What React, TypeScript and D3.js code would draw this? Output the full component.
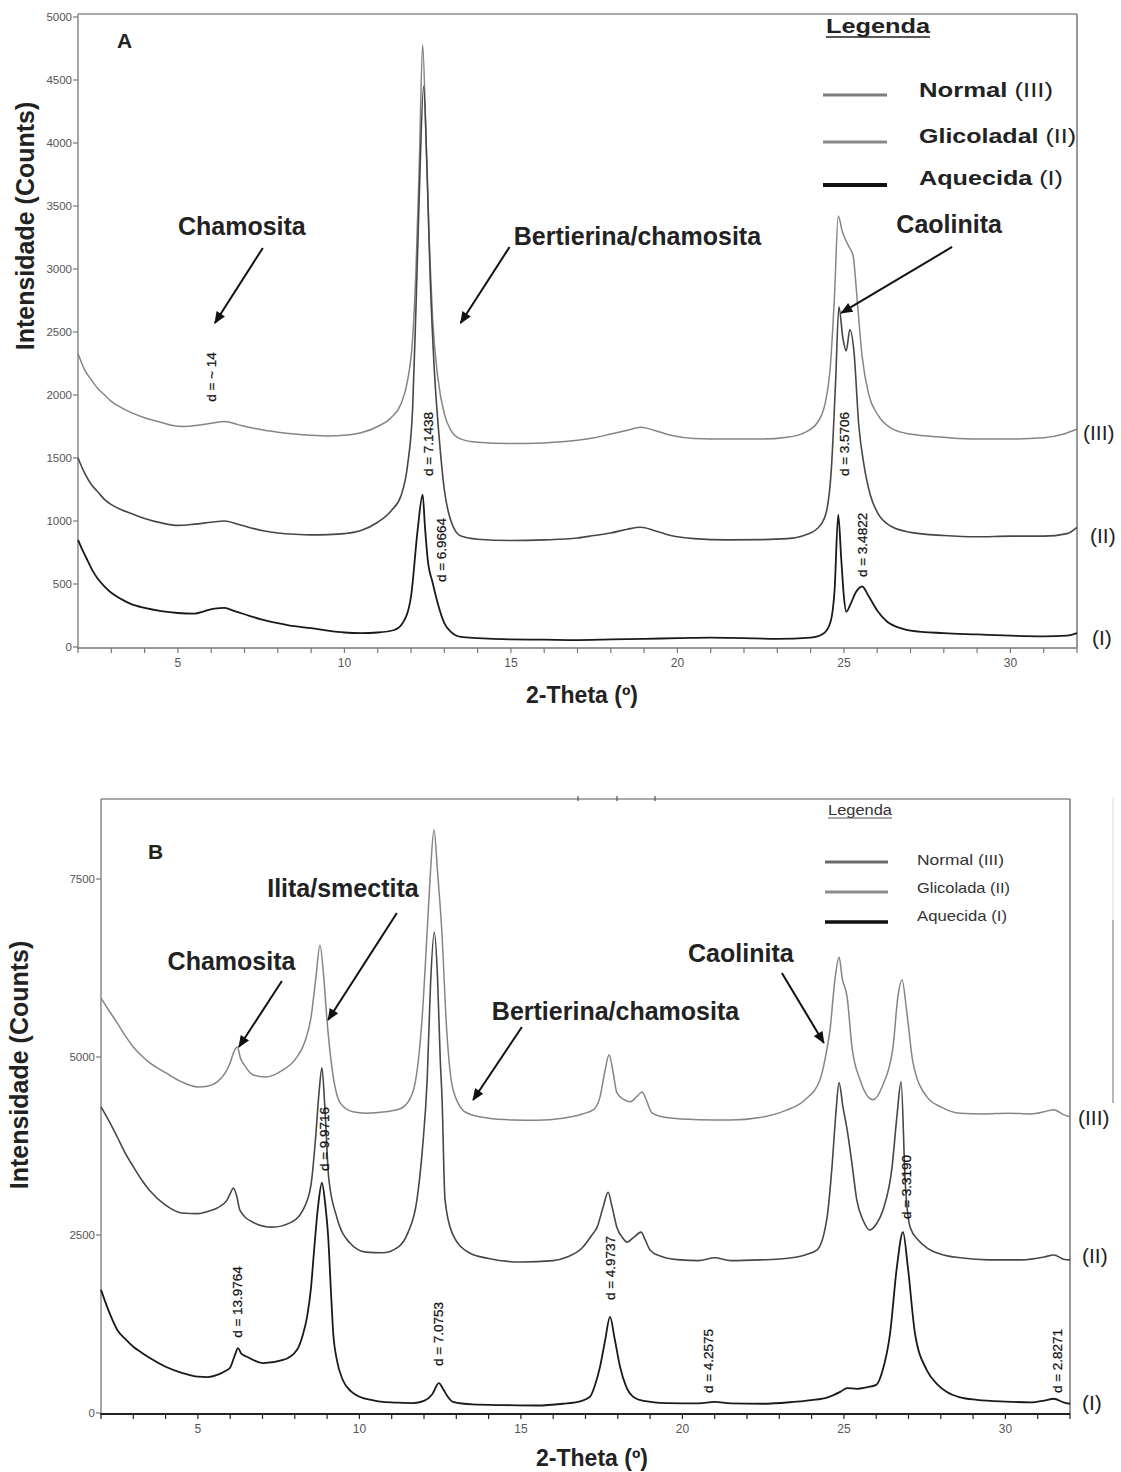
import React from 'react';
import * as d3 from 'd3';

type P = [number, number];

// ---------------- Panel A data (2-Theta, counts) ----------------
const A_III: P[] = [[2.0,2330],[2.2,2200],[2.4,2120],[2.6,2050],[2.8,2000],[3.0,1950],[3.3,1900],[3.6,1860],[4.0,1820],[4.4,1790],[4.8,1760],[5.2,1750],[5.6,1760],[6.0,1775],[6.4,1790],[6.8,1765],[7.2,1740],[7.6,1720],[8.0,1705],[8.5,1690],[9.0,1680],[9.5,1675],[10.0,1680],[10.5,1700],[11.0,1750],[11.4,1820],[11.7,1930],[11.9,2120],[12.05,2450],[12.15,3000],[12.25,3850],[12.35,4780],[12.45,4050],[12.55,3200],[12.65,2600],[12.8,2150],[13.0,1850],[13.2,1720],[13.5,1650],[14.0,1625],[15,1615],[16,1620],[17,1640],[17.5,1660],[18.0,1690],[18.5,1720],[18.9,1745],[19.3,1720],[19.8,1680],[20.5,1655],[21.5,1650],[22.5,1650],[23.3,1665],[23.8,1700],[24.2,1780],[24.45,1950],[24.6,2250],[24.72,2800],[24.83,3420],[24.95,3300],[25.07,3220],[25.18,3165],[25.28,3100],[25.4,2750],[25.55,2300],[25.75,2000],[26.0,1850],[26.4,1740],[27,1690],[28,1665],[29,1650],[30,1650],[31,1660],[31.6,1690],[32,1730]];
const A_II: P[] = [[2.0,1500],[2.2,1380],[2.4,1290],[2.6,1230],[2.8,1170],[3.0,1130],[3.3,1090],[3.6,1060],[4.0,1020],[4.5,985],[5.0,965],[5.5,975],[6.0,990],[6.4,1000],[6.8,975],[7.2,945],[7.6,920],[8.0,905],[8.5,895],[9.0,890],[9.5,892],[10.0,900],[10.5,925],[11.0,990],[11.4,1080],[11.7,1200],[11.9,1450],[12.05,1900],[12.15,2700],[12.25,3600],[12.38,4450],[12.48,3800],[12.58,2900],[12.7,2200],[12.85,1650],[13.0,1250],[13.2,1000],[13.5,880],[14,855],[15,845],[16,850],[17,865],[17.5,885],[18,905],[18.5,935],[18.9,950],[19.3,925],[19.8,885],[20.5,860],[21.5,850],[22.5,852],[23.3,860],[23.8,885],[24.2,940],[24.45,1050],[24.62,1400],[24.75,2100],[24.85,2700],[24.97,2450],[25.07,2350],[25.18,2520],[25.3,2350],[25.45,1750],[25.6,1450],[25.8,1200],[26.0,1070],[26.4,960],[27,910],[28,885],[29,875],[30,880],[31,880],[31.7,900],[32,950]];
const A_I: P[] = [[2.0,850],[2.15,760],[2.3,680],[2.45,600],[2.6,540],[2.8,480],[3.0,430],[3.3,380],[3.6,340],[4.0,310],[4.5,285],[5.0,270],[5.5,265],[5.8,285],[6.1,305],[6.4,310],[6.7,285],[7.0,260],[7.5,220],[8.0,190],[8.5,165],[9.0,150],[9.5,130],[10.0,115],[10.5,110],[11.0,115],[11.5,135],[11.75,190],[12.0,400],[12.2,930],[12.35,1210],[12.42,950],[12.5,700],[12.65,510],[12.8,350],[13.0,190],[13.2,120],[13.5,80],[14,70],[15,60],[16,58],[17,55],[18,60],[19,65],[20,70],[21,75],[22,70],[23,65],[24,75],[24.4,110],[24.6,200],[24.72,450],[24.83,1050],[24.92,700],[25.0,400],[25.07,280],[25.2,340],[25.35,430],[25.55,480],[25.75,400],[26.0,290],[26.3,200],[26.7,150],[27,130],[28,110],[29,100],[30,90],[31,85],[31.7,90],[32,110]];

// ---------------- Panel B data ----------------
const B_III: P[] = [[2.0,5830],[2.25,5650],[2.5,5480],[2.75,5300],[3.0,5140],[3.25,5020],[3.5,4920],[4.0,4780],[4.5,4650],[5.0,4580],[5.3,4590],[5.6,4650],[5.85,4780],[6.0,4920],[6.12,5080],[6.22,5140],[6.32,4980],[6.45,4880],[6.7,4750],[7.1,4720],[7.6,4810],[8.0,4960],[8.3,5200],[8.5,5550],[8.65,6100],[8.78,6570],[8.9,6100],[9.0,5500],[9.15,4850],[9.4,4360],[9.8,4230],[10.2,4210],[10.8,4230],[11.3,4280],[11.65,4500],[11.95,5600],[12.1,6780],[12.2,7600],[12.31,8190],[12.42,7600],[12.55,6780],[12.7,5400],[12.9,4540],[13.3,4220],[14.0,4140],[14.8,4115],[15.5,4110],[16.3,4140],[16.9,4200],[17.25,4260],[17.45,4440],[17.6,4800],[17.73,5030],[17.85,4800],[17.97,4500],[18.2,4400],[18.38,4370],[18.6,4450],[18.75,4510],[18.88,4400],[19.05,4220],[19.5,4150],[20.5,4120],[21.5,4115],[22.4,4150],[23.2,4250],[23.8,4400],[24.26,4680],[24.45,5050],[24.57,5380],[24.72,6080],[24.85,6400],[24.95,6100],[25.1,5840],[25.25,5140],[25.5,4680],[25.9,4400],[26.2,4600],[26.52,5140],[26.67,5840],[26.8,6080],[26.95,5620],[27.14,4920],[27.57,4440],[28.0,4300],[28.6,4210],[29.3,4200],[30.1,4210],[30.8,4200],[31.2,4230],[31.5,4260],[31.8,4190],[32.0,4160]];
const B_II: P[] = [[2.0,4300],[2.25,4100],[2.5,3880],[2.75,3650],[3.0,3460],[3.25,3280],[3.5,3130],[4.0,2920],[4.5,2810],[5.0,2800],[5.3,2830],[5.6,2880],[5.9,2990],[6.0,3080],[6.1,3160],[6.2,3050],[6.3,2850],[6.7,2680],[7.3,2610],[7.85,2670],[8.25,2850],[8.5,3200],[8.65,3900],[8.75,4500],[8.84,4850],[8.93,4300],[9.05,3300],[9.3,2750],[9.7,2390],[10.2,2260],[10.7,2250],[11.2,2330],[11.5,2530],[11.78,2990],[11.95,3700],[12.1,4700],[12.2,6000],[12.32,6750],[12.42,6100],[12.5,5000],[12.56,4400],[12.65,3000],[12.87,2530],[13.4,2250],[14.0,2170],[15.0,2120],[16.0,2140],[16.43,2190],[16.9,2320],[17.2,2500],[17.36,2610],[17.55,2900],[17.7,3100],[17.82,2900],[17.97,2610],[18.15,2460],[18.28,2400],[18.5,2470],[18.72,2540],[18.85,2430],[19.0,2290],[19.4,2190],[19.93,2150],[20.5,2140],[21.0,2180],[21.5,2140],[22.4,2150],[23.2,2170],[23.8,2220],[24.17,2290],[24.48,2750],[24.63,3450],[24.75,4200],[24.85,4640],[24.97,4300],[25.1,3980],[25.25,3500],[25.4,2990],[25.6,2700],[25.8,2570],[26.0,2650],[26.21,2850],[26.49,3450],[26.64,4160],[26.77,4650],[26.9,3230],[27.05,2610],[27.3,2430],[27.57,2320],[28.0,2230],[28.6,2180],[29.5,2150],[30.5,2150],[31.2,2190],[31.5,2220],[31.8,2160],[32.0,2150]];
const B_I: P[] = [[2.0,1730],[2.25,1420],[2.5,1170],[2.75,1040],[3.0,930],[3.25,850],[3.5,775],[4.0,650],[4.5,565],[5.0,510],[5.3,505],[5.6,535],[5.85,590],[6.0,640],[6.15,820],[6.24,910],[6.35,830],[6.52,790],[7.02,700],[7.64,745],[8.07,890],[8.25,1100],[8.38,1350],[8.5,1750],[8.6,2300],[8.72,2900],[8.84,3230],[8.95,2900],[9.03,2500],[9.12,1700],[9.19,1120],[9.3,750],[9.49,460],[9.75,300],[10.02,225],[10.4,180],[10.73,155],[11.2,145],[11.66,140],[12.0,170],[12.25,260],[12.46,420],[12.6,330],[12.75,220],[12.9,155],[13.5,120],[14.5,110],[15.5,105],[16.3,130],[16.8,160],[17.14,230],[17.3,400],[17.45,650],[17.6,1000],[17.76,1350],[17.9,1050],[18.07,650],[18.25,380],[18.47,230],[18.8,170],[19.5,140],[20.5,135],[21.0,155],[21.5,135],[22.5,130],[23.43,155],[24.0,180],[24.5,220],[24.9,300],[25.1,350],[25.4,340],[25.7,360],[26.0,395],[26.2,600],[26.43,1120],[26.64,2050],[26.83,2540],[26.98,2050],[27.2,1120],[27.57,600],[27.9,400],[28.19,295],[28.6,220],[29.12,185],[30.0,160],[30.8,150],[31.2,175],[31.5,200],[31.8,150],[32.0,130]];

// ---------------- ticks / labels ----------------
const xTickMajor = [5, 10, 15, 20, 25, 30];
const xTickMinor = d3.range(2, 33, 1);
const yTicksA = d3.range(0, 5001, 500);
const yTicksB = [0, 2500, 5000, 7500];
const seriesTags = ['(III)', '(II)', '(I)'];

const annA = [
  { text: 'Chamosita', tx: 6.92, ty: 3270, ax1: 7.55, ay1: 3167, ax2: 6.11, ay2: 2571 },
  { text: 'Bertierina/chamosita', tx: 18.8, ty: 3190, ax1: 14.96, ay1: 3175, ax2: 13.49, ay2: 2571 },
  { text: 'Caolinita', tx: 28.16, ty: 3286, ax1: 28.25, ay1: 3175, ax2: 24.92, ay2: 2651 },
];
const annB = [
  { text: 'Chamosita', tx: 6.04, ty: 6222, ax1: 7.6, ay1: 6067, ax2: 6.27, ay2: 5140 },
  { text: 'Ilita/smectita', tx: 9.49, ty: 7247, ax1: 11.16, ay1: 7022, ax2: 9.03, ay2: 5520 },
  { text: 'Bertierina/chamosita', tx: 17.93, ty: 5520, ax1: 15.03, ay1: 5421, ax2: 13.52, ay2: 4396 },
  { text: 'Caolinita', tx: 21.81, ty: 6334, ax1: 23.08, ay1: 6180, ax2: 24.38, ay2: 5197 },
];
const dLabA: [string, number, number][] = [
  ['d = ~ 14', 6.02, 2143], ['d = 7.1438', 12.54, 1611], ['d = 6.9664', 12.93, 770],
  ['d = 3.5706', 25.03, 1611], ['d = 3.4822', 25.57, 810],
];
const dLabB: [string, number, number][] = [
  ['d = 13.9764', 6.24, 1559], ['d = 9.9716', 8.93, 3848], ['d = 7.0753', 12.46, 1110],
  ['d = 4.9737', 17.76, 2037], ['d = 4.2575', 20.82, 730], ['d = 3.3190', 26.95, 3174],
  ['d = 2.8271', 31.6, 730],
];

const FONT = "'Liberation Sans', Arial, Helvetica, sans-serif";
const COL = { III: '#858585', II: '#474747', I: '#1a1a1a' };

interface PanelProps {
  xs: d3.ScaleLinear<number, number>;
  ys: d3.ScaleLinear<number, number>;
  top: number;
  series: P[][];
  yTicks: number[];
  ann: typeof annA;
  dLab: [string, number, number][];
  tagPos: [number, number][];
  axisColor: string;
  axisWidth: number;
}

function Panel({ xs, ys, top, series, yTicks, ann, dLab, tagPos, axisColor, axisWidth }: PanelProps) {
  const [x0, x1] = xs.range();
  const y0 = ys(0) + 1;
  const line = d3.line<P>().x(d => xs(d[0])).y(d => ys(d[1])).curve(d3.curveMonotoneX);
  const cols = [COL.III, COL.II, COL.I];
  const widths = [1.5, 1.6, 1.8];
  return (
    <g>
      <line x1={x0} x2={x1} y1={top} y2={top} stroke="#8c8c8c" strokeWidth={1.5} />
      <line x1={x1} x2={x1} y1={top} y2={y0} stroke="#777" strokeWidth={1.5} />
      <line x1={x0} x2={x0} y1={top} y2={y0} stroke="#777" strokeWidth={1.3} />
      <line x1={x0 - 1} x2={x1} y1={y0} y2={y0} stroke={axisColor} strokeWidth={axisWidth} />
      {xTickMinor.map(t => (
        <line key={'m' + t} x1={xs(t)} x2={xs(t)} y1={y0} y2={y0 + 5} stroke={axisColor} strokeWidth={1.2} />
      ))}
      {xTickMajor.map(t => (
        <text key={'l' + t} x={xs(t)} y={y0 + 19} fontSize={12} fill="#555" textAnchor="middle" fontFamily={FONT}>{t}</text>
      ))}
      {yTicks.map(t => (
        <g key={'y' + t}>
          <line x1={x0 - 5} x2={x0} y1={ys(t)} y2={ys(t)} stroke="#777" strokeWidth={1.2} />
          <text x={x0 - 6} y={ys(t) + 4} fontSize={11.5} fill="#555" textAnchor="end" fontFamily={FONT}>{t}</text>
        </g>
      ))}
      {series.map((s, i) => (
        <path key={'s' + i} d={line(s) || ''} fill="none" stroke={cols[i]} strokeWidth={widths[i]} strokeLinejoin="round" />
      ))}
      {dLab.map(([t, a, b]) => (
        <text key={t} transform={`translate(${xs(a)},${ys(b)}) rotate(-90)`} fontSize={13.5} fill="#111" textAnchor="middle" dominantBaseline="central" fontFamily={FONT} stroke="#111" strokeWidth={0.25}>{t}</text>
      ))}
      {ann.map(a => (
        <g key={a.text}>
          <text x={xs(a.tx)} y={ys(a.ty)} fontSize={25} fontWeight="bold" fill="#222" textAnchor="middle" fontFamily={FONT}>{a.text}</text>
          <line x1={xs(a.ax1)} y1={ys(a.ay1)} x2={xs(a.ax2)} y2={ys(a.ay2)} stroke="#111" strokeWidth={2} markerEnd="url(#ah)" />
        </g>
      ))}
      {seriesTags.map((t, i) => (
        <text key={t} x={tagPos[i][0]} y={tagPos[i][1]} fontSize={21} fill="#222" dominantBaseline="central" fontFamily={FONT}>{t}</text>
      ))}
    </g>
  );
}

export default function App() {
  const xA = d3.scaleLinear().domain([2, 32]).range([78, 1077]);
  const yA = d3.scaleLinear().domain([0, 5000]).range([647, 17]);
  const xB = d3.scaleLinear().domain([2, 32]).range([101, 1070]);
  const yB = d3.scaleLinear().domain([0, 7500]).range([1413, 879]);
  return (
    <svg width={1121} height={1472} style={{ position: 'absolute', left: 0, top: 0, background: '#fff' }} fontFamily={FONT}>
      <defs>
        <marker id="ah" viewBox="0 0 12 10" refX={11} refY={5} markerWidth={13} markerHeight={10} markerUnits="userSpaceOnUse" orient="auto">
          <path d="M0,0 L12,5 L0,10 z" fill="#111" />
        </marker>
      </defs>
      <rect x={0} y={0} width={1121} height={1472} fill="#fff" />

      {/* Panel A */}
      <Panel xs={xA} ys={yA} top={14} series={[A_III, A_II, A_I]} yTicks={yTicksA} ann={annA} dLab={dLabA}
        tagPos={[[1083, 432], [1090, 535], [1092, 637]]} axisColor="#777" axisWidth={1.5} />
      <text x={117} y={48} fontSize={21} fontWeight="bold" fill="#222">A</text>
      <text transform="translate(34,226) rotate(-90)" fontSize={25} fontWeight="bold" fill="#222" textAnchor="middle">Intensidade (Counts)</text>
      <text x={582} y={703} fontSize={23} fontWeight="bold" fill="#222" textAnchor="middle">2-Theta (º)</text>
      <text x={826} y={33} fontSize={20} fontWeight="bold" fill="#222" textLength={104} lengthAdjust="spacingAndGlyphs">Legenda</text>
      <line x1={826} x2={930} y1={37} y2={37} stroke="#222" strokeWidth={1.5} />
      <line x1={823} x2={887} y1={95} y2={95} stroke="#7c7c7c" strokeWidth={3} />
      <line x1={823} x2={887} y1={142} y2={142} stroke="#8a8a8a" strokeWidth={3} />
      <line x1={823} x2={887} y1={185} y2={185} stroke="#111" strokeWidth={4} />
      <text x={919} y={97} fontSize={20} fill="#222" textLength={134} lengthAdjust="spacingAndGlyphs"><tspan fontWeight="bold">Normal</tspan> (III)</text>
      <text x={919} y={143} fontSize={20} fill="#222" textLength={157} lengthAdjust="spacingAndGlyphs"><tspan fontWeight="bold">Glicoladal</tspan> (II)</text>
      <text x={919} y={185} fontSize={20} fill="#222" textLength={144} lengthAdjust="spacingAndGlyphs"><tspan fontWeight="bold">Aquecida</tspan> (I)</text>

      {/* Panel B */}
      <Panel xs={xB} ys={yB} top={799} series={[B_III, B_II, B_I]} yTicks={yTicksB} ann={annB} dLab={dLabB}
        tagPos={[[1078, 1117], [1082, 1255], [1082, 1402]]} axisColor="#222" axisWidth={2} />
      <text x={148} y={859} fontSize={21} fontWeight="bold" fill="#222">B</text>
      <text transform="translate(28,1065) rotate(-90)" fontSize={25} fontWeight="bold" fill="#222" textAnchor="middle">Intensidade (Counts)</text>
      <text x={592} y={1466} fontSize={23} fontWeight="bold" fill="#222" textAnchor="middle">2-Theta (º)</text>
      {[578, 617, 655].map(x => (
        <line key={x} x1={x} x2={x} y1={796} y2={801} stroke="#555" strokeWidth={1.2} />
      ))}
      <line x1={1113} x2={1113} y1={797} y2={920} stroke="#ddd" strokeWidth={1} />
      <line x1={1113} x2={1113} y1={920} y2={1103} stroke="#888" strokeWidth={1.2} />
      <text x={828} y={815} fontSize={14} fill="#333" textLength={64} lengthAdjust="spacingAndGlyphs">Legenda</text>
      <line x1={828} x2={892} y1={818} y2={818} stroke="#555" strokeWidth={1} />
      <line x1={825} x2={888} y1={862} y2={862} stroke="#6a6a6a" strokeWidth={3} />
      <line x1={825} x2={888} y1={892} y2={892} stroke="#8c8c8c" strokeWidth={3} />
      <line x1={825} x2={888} y1={922} y2={922} stroke="#111" strokeWidth={3.5} />
      <text x={917} y={865} fontSize={15} fill="#333" textLength={87} lengthAdjust="spacingAndGlyphs">Normal (III)</text>
      <text x={917} y={893} fontSize={15} fill="#333" textLength={93} lengthAdjust="spacingAndGlyphs">Glicolada (II)</text>
      <text x={917} y={921} fontSize={15} fill="#333" textLength={90} lengthAdjust="spacingAndGlyphs">Aquecida (I)</text>
    </svg>
  );
}
